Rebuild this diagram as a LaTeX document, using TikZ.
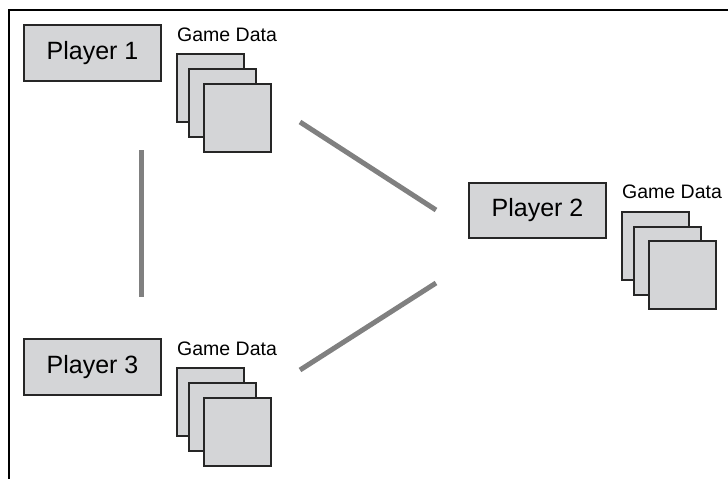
\documentclass[tikz,border=0pt]{standalone}
\usepackage{fontspec}
\setmainfont{Liberation Sans}
\usetikzlibrary{positioning, calc}
\definecolor{boxgray}{RGB}{212,213,215}
\definecolor{linkgray}{RGB}{128,128,128}

\begin{document}
\begin{tikzpicture}[x=1pt,y=-1pt,
        player/.style={draw=black!85, line width=1.2pt, fill=boxgray, minimum width=137pt, minimum height=56pt, inner sep=0pt, font=\fontsize{25}{29}\selectfont},
        gdata/.style={anchor=west, inner sep=0pt, font=\fontsize{19.5}{23}\selectfont},
        sheet/.style={draw=black!85, line width=1.2pt, fill=boxgray, minimum width=67pt, minimum height=68pt, inner sep=0pt},
        link/.style={draw=linkgray, line width=5pt}]
        \useasboundingbox (0,0) rectangle (728,479);
        %cornice
            \draw[line width=1.5pt] (9,479)-- (9,10)-- (728,10);
        %giocatori
            \node[player] (p1) at (92.5,53) {Player 1};
            \node[player, minimum height=55pt] (p2) at (537.5,210.5) {Player 2};
            \node[player] (p3) at (92.5,367) {Player 3};
        %dati di gioco
            \node[gdata] (gd1) at (177,35) {Game Data};
            \node[gdata] (gd2) at (622,192) {Game Data};
            \node[gdata] (gd3) at (177,349) {Game Data};
        %pile di fogli
            \node[sheet] (s1a) at (210.5,88) {};
            \node[sheet] (s1b) at (222.5,103) {};
            \node[sheet] (s1c) at (237.5,118) {};

            \node[sheet] (s2a) at (655.5,246) {};
            \node[sheet] (s2b) at (667.5,261) {};
            \node[sheet] (s2c) at (682.5,275) {};

            \node[sheet] (s3a) at (210.5,402) {};
            \node[sheet] (s3b) at (222.5,417) {};
            \node[sheet] (s3c) at (237.5,432) {};
        %collegamenti
            \coordinate (l13a) at (141,150);
            \coordinate (l13b) at (141,297);
            \coordinate (l12a) at (300,122);
            \coordinate (l12b) at (436,210);
            \coordinate (l32a) at (300,370);
            \coordinate (l32b) at (436,283);
            \draw[link] (l13a)-- (l13b);
            \draw[link] (l12a)-- (l12b);
            \draw[link] (l32a)-- (l32b);
\end{tikzpicture}
\end{document}
